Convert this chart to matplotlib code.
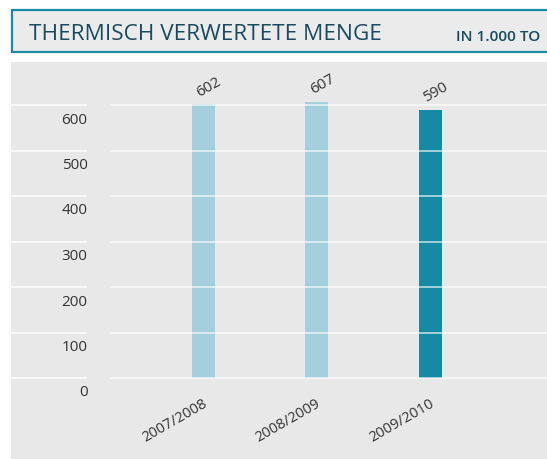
import numpy as np
from matplotlib import pyplot as plt
from matplotlib.patches import Rectangle

years = ['2007/2008', '2008/2009', '2009/2010']
values = [602, 607, 590]
bar_colors = ['#a4cfdc', '#a4cfdc', '#1689a4']
yticks = [0, 100, 200, 300, 400, 500, 600]

plt.rcParams['font.family'] = ['Open Sans', 'DejaVu Sans']

W, H = 547, 459
fig = plt.figure(figsize=(W / 100, H / 100), dpi=100)
fig.patch.set_facecolor('white')

def px_box(x0, y0, x1, y1):
    # pixel box (top-left origin) -> figure fraction [l, b, w, h]
    return [x0 / W, 1 - y1 / H, (x1 - x0) / W, (y1 - y0) / H]

# header box
l, b, w, h = px_box(12, 10, 560, 52)
fig.patches.append(Rectangle((l, b), w, h, transform=fig.transFigure,
                             facecolor='#ebebeb', edgecolor='#1b8ba5', lw=1.6))
fig.text(29 / W, 1 - 40 / H, 'THERMISCH VERWERTETE MENGE', fontsize=16.2,
         color='#1a4a5e', va='baseline', ha='left')
fig.text(456 / W, 1 - 41 / H, 'IN 1.000 TO', fontsize=11, fontweight='semibold',
         color='#1a4a5e', va='baseline', ha='left')

# chart panel
ax = fig.add_axes(px_box(11, 62, 547, 459))
ax.set_facecolor('#e8e8e8')
for s in ax.spines.values():
    s.set_visible(False)
ax.set_xticks([])
ax.set_yticks([])

pxu = 0.455      # pixels per unit
step = 113.5     # pixels between bars
x0px = 203
ax.set_xlim((11 - x0px) / step, (547 - x0px) / step)
ax.set_ylim(-(459 - 378) / pxu, (378 - 62) / pxu)

x = np.arange(len(years))
ax.bar(x, values, width=23 / step, color=bar_colors, zorder=2)

gl_a = (11 - x0px) / step
gl_b = (87 - x0px) / step
gl_c = (110 - x0px) / step
gl_d = (547 - x0px) / step
for v in yticks:
    ax.hlines(v, gl_a, gl_b, colors='white', lw=1.2, alpha=0.85, zorder=3)
    ax.hlines(v, gl_c, gl_d, colors='white', lw=1.2, alpha=0.7, zorder=3)
    ax.text((87.5 - x0px) / step, v - 15 / pxu, str(v), ha='right', va='center',
            fontsize=11, color='#333333')

for i, v in enumerate(values):
    ax.text(i + 6 / step, v + 17 / pxu, str(v), ha='center', va='center',
            rotation=30, fontsize=11, color='#333333')
    ax.text(i - 1 / step, -18 / pxu, years[i], ha='right', va='top',
            rotation=30, rotation_mode='anchor', fontsize=10.5, color='#333333')

fig.savefig('out.png', dpi=100)
